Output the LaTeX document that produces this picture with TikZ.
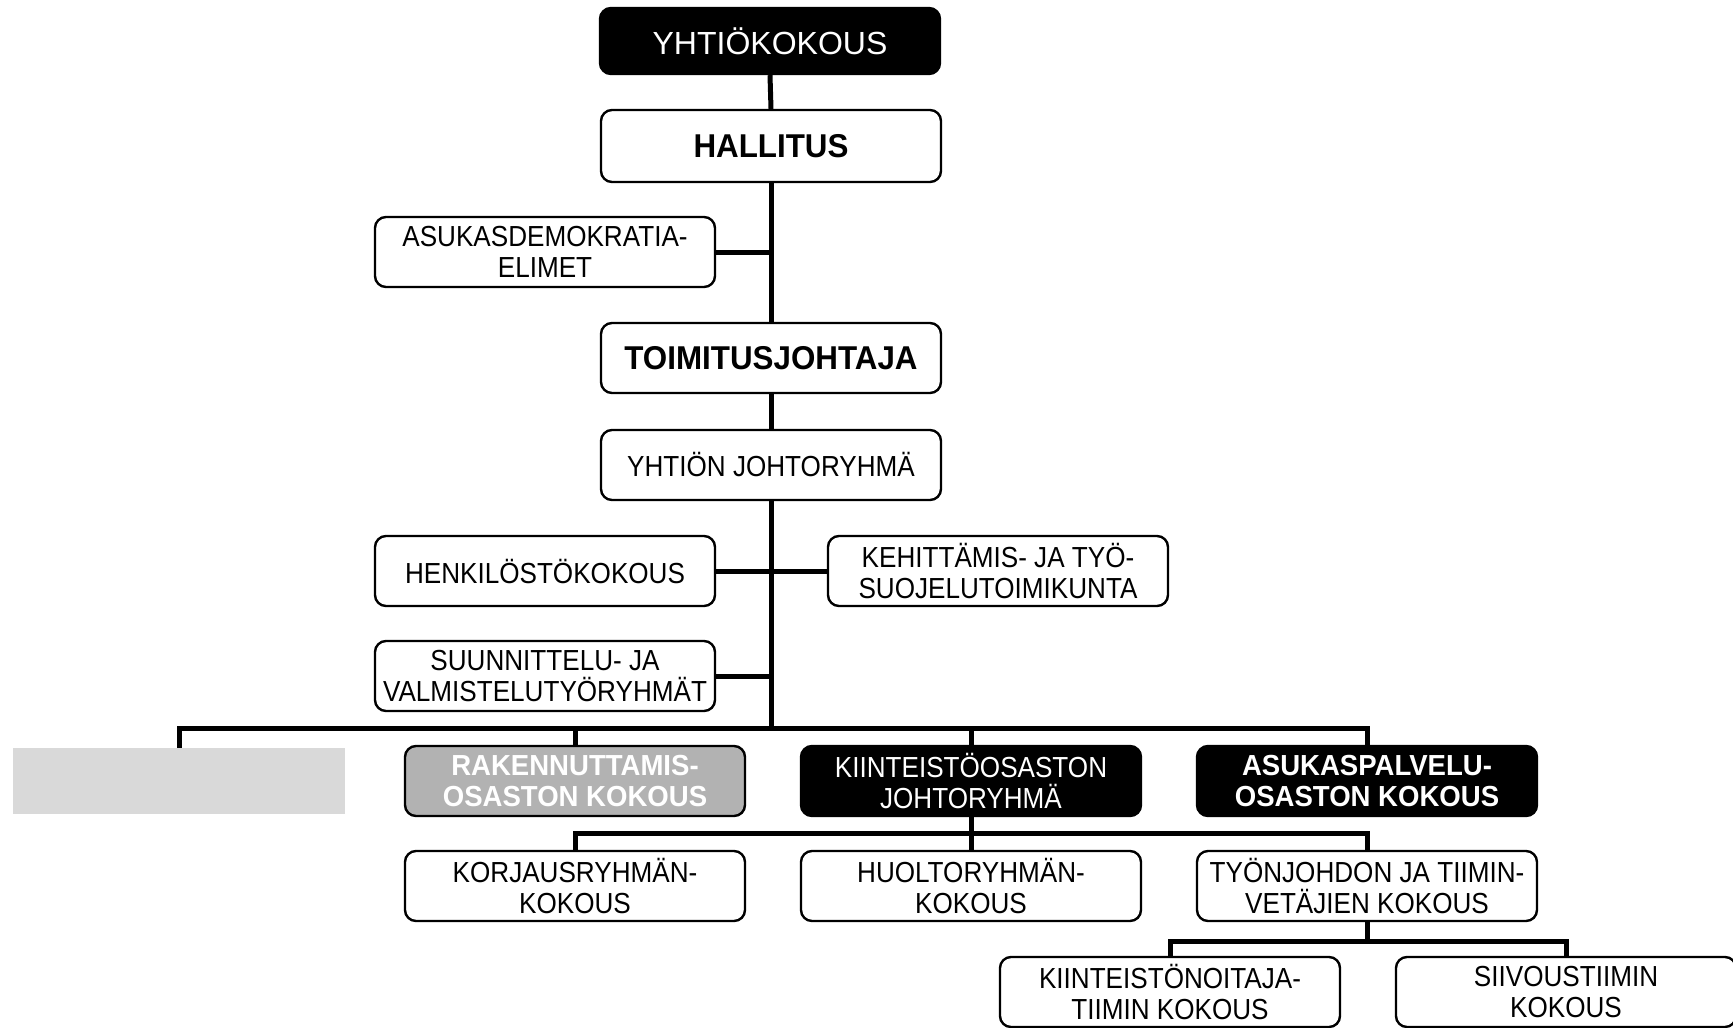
\documentclass[tikz,border=0pt]{standalone}
\usepackage{fontspec}
\setmainfont{Liberation Sans}
\newfontfamily\nf{Liberation Sans}[FakeStretch=0.9]
\newfontfamily\hb{Liberation Sans}[FakeStretch=0.95]
\newfontfamily\wf{Liberation Sans}
\begin{document}
\begin{tikzpicture}[x=1pt,y=-1pt,
  box/.style={draw, line width=2.4pt, rounded corners=11pt, fill=white,
    minimum width=340pt, minimum height=70pt, inner sep=0pt, align=center,
    font=\nf\fontsize{29}{31}\selectfont},
  dark/.style={box, fill=black, text=white},
  bigbold/.style={font=\hb\bfseries\fontsize{33}{35}\selectfont},
  conn/.style={line width=5pt, line join=miter}]
\useasboundingbox (0,0) rectangle (1733,1028);
% top column
\node[dark, minimum height=66pt, font=\wf\fontsize{32}{34}\selectfont] (yk) at (770,41) {YHTIÖKOKOUS};
\node[box, bigbold, minimum height=72pt] (hal) at (771,146) {HALLITUS};
\node[box] (asd) at (545,252) {ASUKASDEMOKRATIA-\\ELIMET};
\node[box, bigbold] (toj) at (771,358) {TOIMITUSJOHTAJA};
\node[box] (yjr) at (771,465) {YHTIÖN JOHTORYHMÄ};
\node[box] (hen) at (545,571) {HENKILÖSTÖKOKOUS};
\node[box] (keh) at (998,571) {KEHITTÄMIS- JA TYÖ-\\SUOJELUTOIMIKUNTA};
\node[box] (suu) at (545,676) {SUUNNITTELU- JA\\VALMISTELUTYÖRYHMÄT};
% departments
\node[fill=gray!30, minimum width=332pt, minimum height=66pt, inner sep=0pt] (gry) at (179,781) {};
\node[box, fill=gray!60, text=white, font=\hb\bfseries\fontsize{29}{31}\selectfont] (rak) at (575,781) {RAKENNUTTAMIS-\\OSASTON KOKOUS};
\node[dark] (kii) at (971,781) {KIINTEISTÖOSASTON\\JOHTORYHMÄ};
\node[dark, font=\hb\bfseries\fontsize{29}{31}\selectfont] (asp) at (1367,781) {ASUKASPALVELU-\\OSASTON KOKOUS};
% third row
\node[box] (kor) at (575,886) {KORJAUSRYHMÄN-\\KOKOUS};
\node[box] (huo) at (971,886) {HUOLTORYHMÄN-\\KOKOUS};
\node[box] (tyo) at (1367,886) {TYÖNJOHDON JA TIIMIN-\\VETÄJIEN KOKOUS};
% fourth row
\node[box] (kin) at (1170,992) {KIINTEISTÖNOITAJA-\\TIIMIN KOKOUS};
\node[box] (sii) at (1566,992) {SIIVOUSTIIMIN\\KOKOUS};
% bus coordinates
\coordinate (bus1) at (771,728);
\coordinate (bus2) at (971,833);
\coordinate (bus3) at (1367,941);
% connectors
\draw[conn] (yk.south) -- (hal.north);
\draw[conn] (hal.south) -- (toj.north);
\draw[conn] (asd.east) -- (asd.east -| hal.south);
\draw[conn] (toj.south) -- (yjr.north);
\draw[conn] (yjr.south) -- (bus1);
\draw[conn] (hen.east) -- (keh.west);
\draw[conn] (suu.east) -- (suu.east -| bus1);
\draw[conn] (gry.north) -- (gry.north |- bus1) -- (asp.north |- bus1) -- (asp.north);
\draw[conn] (rak.north |- bus1) -- (rak.north);
\draw[conn] (kii.north |- bus1) -- (kii.north);
\draw[conn] (kii.south) -- (bus2);
\draw[conn] (kor.north) -- (kor.north |- bus2) -- (tyo.north |- bus2) -- (tyo.north);
\draw[conn] (huo.north |- bus2) -- (huo.north);
\draw[conn] (tyo.south) -- (bus3);
\draw[conn] (kin.north) -- (kin.north |- bus3) -- (sii.north |- bus3) -- (sii.north);
\end{tikzpicture}
\end{document}
